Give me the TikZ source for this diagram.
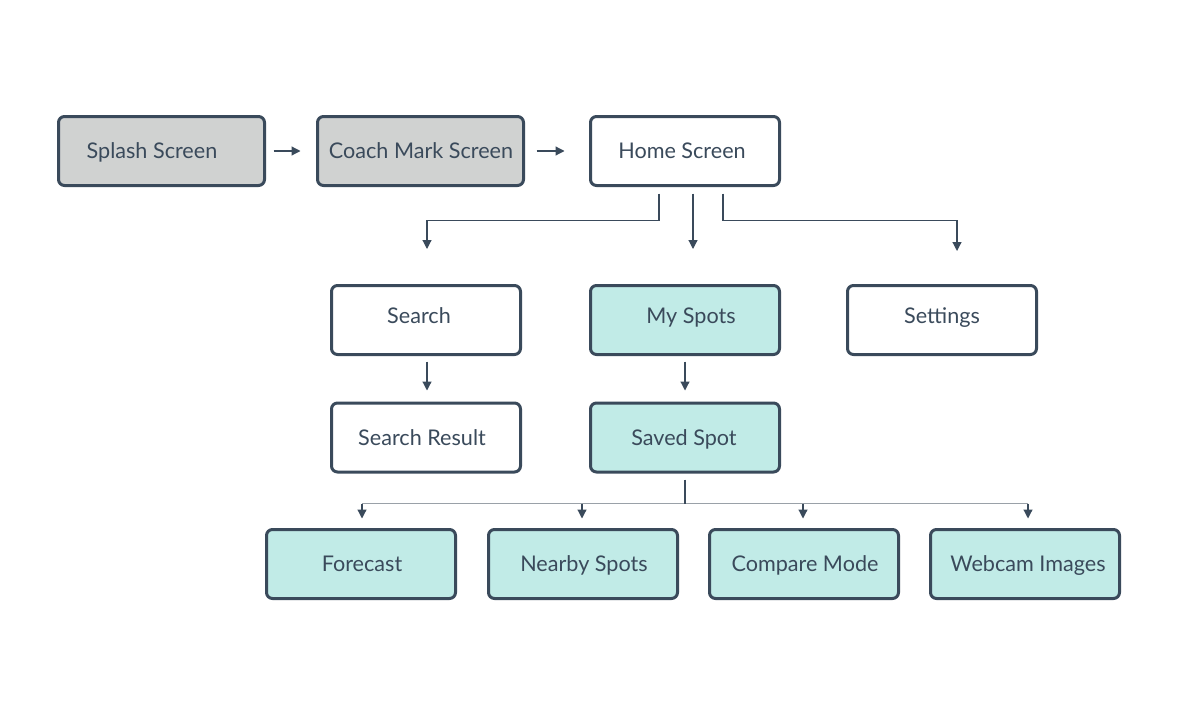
\documentclass[tikz,border=0pt]{standalone}
\usepackage{fontspec}
\setmainfont{Lato}
\usetikzlibrary{arrows.meta,calc}
\definecolor{edge}{HTML}{3A4A5B}
\definecolor{greyfill}{HTML}{D0D2D1}
\definecolor{teal}{HTML}{C1EBE7}
\definecolor{hline}{HTML}{9AA1A8}
\tikzset{
  box/.style={draw=edge, line width=3pt, rounded corners=6pt, minimum width=189pt, minimum height=69pt, inner sep=0pt, fill=white},
  widebox/.style={box, minimum width=206pt},
  greybox/.style={fill=greyfill},
  tealbox/.style={fill=teal},
  txt/.style={font=\fontsize{21.6}{26}\selectfont, text=edge, anchor=base, inner sep=0pt},
  conn/.style={draw=edge, line width=1.2pt, -{Triangle[width=9pt,length=9pt]}},
  plain/.style={draw=edge, line width=1.2pt},
  greyline/.style={draw=hline, line width=1.6pt}
}
\begin{document}
\begin{tikzpicture}[x=1pt,y=-1pt]
\useasboundingbox (0,0) rectangle (1199,712);
% boxes
\node[widebox,greybox] (splash) at (161.5,151) {};
\node[widebox,greybox] (coach) at (420.5,151) {};
\node[box] (home) at (685,151) {};
\node[box] (search) at (426,320) {};
\node[box,tealbox] (myspots) at (685,320) {};
\node[box] (settings) at (942,320) {};
\node[box] (result) at (426,437.5) {};
\node[box,tealbox] (saved) at (685,437.5) {};
\node[box,tealbox] (forecast) at (361,564) {};
\node[box,tealbox] (nearby) at (583,564) {};
\node[box,tealbox] (compare) at (804,564) {};
\node[box,tealbox] (webcam) at (1025,564) {};
% labels
\node[txt] (splash-t) at (152,158) {Splash Screen};
\node[txt] (coach-t) at (421,158) {Coach Mark Screen};
\node[txt] (home-t) at (682,158) {Home Screen};
\node[txt] (search-t) at (419,323) {Search};
\node[txt] (myspots-t) at (691,323) {My Spots};
\node[txt] (settings-t) at (942,323) {Settings};
\node[txt] (result-t) at (422,445) {Search Result};
\node[txt] (saved-t) at (684,445) {Saved Spot};
\node[txt] (forecast-t) at (362,571) {Forecast};
\node[txt] (nearby-t) at (584,571) {Nearby Spots};
\node[txt] (compare-t) at (805,571) {Compare Mode};
\node[txt] (webcam-t) at (1028,571) {Webcam Images};
% top row arrows
\draw[conn, shorten <=7.5pt, shorten >=15.5pt] (splash.east) -- (coach.west);
\draw[conn, shorten <=11.5pt, shorten >=24.5pt] (coach.east) -- (home.west);
% home branches
\draw[conn] ([xshift=-26pt,yshift=-6.5pt]home.south) -- ++(0,27) -| ([xshift=1pt,yshift=35pt]search.north);
\draw[conn] ([xshift=8pt,yshift=-6.5pt]home.south) -- ([xshift=8pt,yshift=35pt]myspots.north);
\draw[conn] ([xshift=38pt,yshift=-6.5pt]home.south) -- ++(0,27) -| ([xshift=15pt,yshift=33pt]settings.north);
% second level
\draw[conn, shorten <=5.5pt, shorten >=11pt] ([xshift=1pt]search.south) -- ([xshift=1pt]result.north);
\draw[conn, shorten <=5.5pt, shorten >=11pt] (myspots.south) -- (saved.north);
% saved spot branches
\coordinate (sj) at ([yshift=-30pt]saved.south);
\coordinate (f) at ([xshift=1pt,yshift=9.5pt]forecast.north);
\coordinate (n) at ([xshift=-1pt,yshift=9.5pt]nearby.north);
\coordinate (c) at ([xshift=-1pt,yshift=9.5pt]compare.north);
\coordinate (w) at ([xshift=3pt,yshift=9.5pt]webcam.north);
\draw[greyline] (f |- sj) -- (w |- sj);
\draw[plain] ([yshift=-6pt]saved.south) -- (sj);
\draw[conn] (f |- sj) -- (f);
\draw[conn] (n |- sj) -- (n);
\draw[conn] (c |- sj) -- (c);
\draw[conn] (w |- sj) -- (w);
\end{tikzpicture}
\end{document}
